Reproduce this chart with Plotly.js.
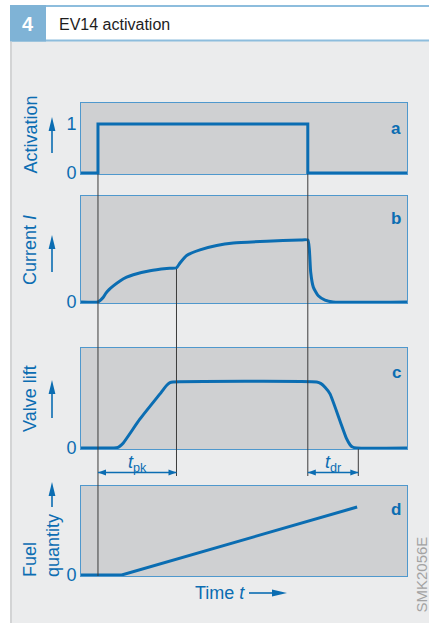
<!DOCTYPE html>
<html><head><meta charset="utf-8">
<script src="https://cdn.plot.ly/plotly-3.0.1.min.js"></script>
<style>html,body{margin:0;padding:0;background:#fff}#chart{width:429px;height:623px}</style>
</head><body><div id="chart"></div>
<script>
// ---------------- data ----------------
const timeActivation = [0, 5.21, 5.21, 69.57, 69.57, 100];
const activation     = [0, 0, 1, 1, 0, 0];

const timeCurrent = [0, 5.21, 6.0, 6.84, 7.6, 8.6, 9.91, 11.96, 14.0, 16.04, 21.17, 26.29, 29.29, 30.37, 32.42, 36.5, 41.63, 46.72, 56.96, 67.18, 69.57, 70.03, 70.46, 71.26, 72.79, 74.85, 77.3, 100];
const current     = [0, 0, 0.03, 0.076, 0.14, 0.2, 0.26, 0.34, 0.4, 0.44, 0.505, 0.54, 0.553, 0.63, 0.75, 0.84, 0.91, 0.95, 0.98, 1.0, 1.0, 0.855, 0.48, 0.24, 0.10, 0.03, 0, 0];

const timeLift  = [0, 10.12, 11.35, 12.0, 12.98, 18.1, 24.23, 25.46, 26.38, 27.3, 28.22, 72.3, 73.62, 74.85, 76.38, 79.45, 81.5, 82.52, 83.28, 84.57, 100];
const valveLift = [0, 0, 0.01, 0.03, 0.076, 0.44, 0.82, 0.9, 0.955, 0.99, 1.0, 1.0, 0.975, 0.92, 0.82, 0.41, 0.137, 0.05, 0.015, 0, 0];

const timeFuel     = [0, 12.5, 84.7];
const fuelQuantity = [0, 0, 1.0];

const eventNames = ['on', 'pk', 'off', 'close'];
const eventTimes = [5.21, 29.29, 69.57, 85.06];

const panelLetters = ['a', 'b', 'c', 'd'];
const axisTitles   = ['Activation', 'Current <i>I</i>', 'Valve lift', 'Fuel<br>quantity'];
const tickValues   = [[0, 1], [0], [0], [0]];
const tickTexts    = [['0', '1'], ['0'], ['0'], ['0']];

const chartTitle  = 'EV14 activation';
const figureNo    = '4';
const xLabel      = 'Time <i>t</i>';
const codeLabel   = 'SMK2056E';
const dimLabels   = ['<i>t</i><sub>pk</sub>', '<i>t</i><sub>dr</sub>'];

// ---------------- styling / geometry ----------------
const BLUE = '#0b6db2', BORDER = '#4f98cd', FONT = 'Liberation Sans, Arial, Helvetica, sans-serif';
const W = 429, H = 623, L = 81, R = 407;
const fx = px => (px - L) / (R - L);
const fy = py => 1 - py / H;
const tEv = name => eventTimes[eventNames.indexOf(name)];

const panels = [
  {top:103, bot:174, unit:49, letterY:128, labelX:30,   labelY:134.5, tip:117, tail:153},
  {top:196, bot:303, unit:62, letterY:219, labelX:30,   labelY:250,   tip:235, tail:272},
  {top:348, bot:449, unit:66, letterY:372, labelX:30,   labelY:398,   tip:380, tail:418},
  {top:486, bot:576, unit:68, letterY:509, labelX:41.5, labelY:545.5, tip:482, tail:507}
];
const series = [[timeActivation, activation], [timeCurrent, current], [timeLift, valveLift], [timeFuel, fuelQuantity]];
const smooth = [false, true, true, false];

const data = series.map((s, i) => ({
  type: 'scatter', mode: 'lines', x: s[0], y: s[1],
  xaxis: 'x' + (i ? i + 1 : ''), yaxis: 'y' + (i ? i + 1 : ''),
  line: smooth[i] ? {color: BLUE, width: 3, shape: 'spline', smoothing: 0.5} : {color: BLUE, width: 3},
  hoverinfo: 'skip', showlegend: false
}));

const layout = {
  width: W, height: H, autosize: false,
  margin: {l: L, r: W - R, t: 0, b: 0, pad: 0},
  paper_bgcolor: '#ebeced', plot_bgcolor: '#cfd0d2',
  font: {family: FONT, color: BLUE},
  showlegend: false, shapes: [], annotations: []
};

panels.forEach((p, i) => {
  const s = i ? String(i + 1) : '';
  layout['xaxis' + s] = {
    domain: [0, 1], range: [0, 100], anchor: 'y' + s, matches: i ? 'x' : undefined,
    showline: true, mirror: true, linecolor: BORDER, linewidth: 1,
    showticklabels: false, ticks: '', showgrid: false, zeroline: false, fixedrange: true, layer: 'below traces'
  };
  layout['yaxis' + s] = {
    domain: [fy(p.bot), fy(p.top)], range: [-1 / p.unit, (p.bot - p.top - 1) / p.unit], anchor: 'x' + s,
    tickvals: tickValues[i], ticktext: tickTexts[i], ticks: '',
    tickfont: {size: 18, color: BLUE, family: FONT},
    showline: true, mirror: true, linecolor: BORDER, linewidth: 1,
    showgrid: false, zeroline: false, fixedrange: true, layer: 'below traces'
  };
  layout.annotations.push({xref:'paper', yref:'paper', x: fx(396), y: fy(p.letterY), text: '<b>' + panelLetters[i] + '</b>',
    showarrow: false, font: {size: 17, color: BLUE}, xanchor: 'center', yanchor: 'middle'});
  layout.annotations.push({xref:'paper', yref:'paper', x: fx(p.labelX), y: fy(p.labelY), text: axisTitles[i],
    textangle: -90, align: 'left', showarrow: false, font: {size: 18, color: BLUE}, xanchor: 'center', yanchor: 'middle'});
});

const rect = (x0, x1, y0, y1, color) => ({type:'rect', xref:'paper', yref:'paper', x0: fx(x0), x1: fx(x1), y0: fy(y1), y1: fy(y0),
  fillcolor: color, line: {width: 0}, layer: 'above'});
layout.shapes.push(rect(0, 10, 0, H, '#ffffff'));
layout.shapes.push(rect(0, W, 0, 5, '#ffffff'));
layout.shapes.push(rect(10, W, 5, 41.5, '#8dbddd'));
layout.shapes.push(rect(46, W, 7, 39.5, '#ffffff'));
layout.shapes.push(rect(10, 46, 5, 41.5, '#7fb3d6'));
layout.shapes.push(rect(10, 12, 41.5, H, '#d3d4d5'));

layout.annotations.push({xref:'paper', yref:'paper', x: fx(28), y: fy(24.5), text: '<b>' + figureNo + '</b>', showarrow: false,
  font: {size: 20, color: '#ffffff'}, xanchor: 'center', yanchor: 'middle'});
layout.annotations.push({xref:'paper', yref:'paper', x: fx(57), y: fy(24), text: chartTitle, showarrow: false,
  font: {size: 16, color: '#1e1e1e'}, xanchor: 'left', yanchor: 'middle'});

const vline = (t, y0, y1) => ({type:'line', xref:'x', yref:'paper', x0: t, x1: t, y0: fy(y1), y1: fy(y0),
  line: {color: '#3c3c3c', width: 1}, layer: 'above'});
layout.shapes.push(vline(tEv('on'), 174, 576));
layout.shapes.push(vline(tEv('pk'), 269, 476));
layout.shapes.push(vline(tEv('off'), 174, 476));
layout.shapes.push(vline(tEv('close'), 449, 476));

const head = (xref, xa, yref, ya, dir, len, hw) => {
  const paths = {
    up:    `M0,0L${-hw},${-len}L${hw},${-len}Z`,
    left:  `M0,0L${len},${hw}L${len},${-hw}Z`,
    right: `M0,0L${-len},${hw}L${-len},${-hw}Z`
  };
  return {type:'path', xref, yref, xsizemode:'pixel', ysizemode:'pixel', xanchor: xa, yanchor: ya,
    path: paths[dir], fillcolor: BLUE, line: {width: 0}, layer: 'above'};
};

panels.forEach(p => {
  layout.shapes.push({type:'line', xref:'paper', yref:'paper', x0: fx(52), x1: fx(52), y0: fy(p.tail), y1: fy(p.tip + 10),
    line: {color: BLUE, width: 1.6}, layer: 'above'});
  layout.shapes.push(head('paper', fx(52), 'paper', fy(p.tip), 'up', 14, 3.4));
});

layout.shapes.push({type:'line', xref:'paper', yref:'paper', x0: fx(249), x1: fx(280), y0: fy(593), y1: fy(593),
  line: {color: BLUE, width: 1.6}, layer: 'above'});
layout.shapes.push(head('paper', fx(287), 'paper', fy(593), 'right', 15, 3.4));
layout.annotations.push({xref:'paper', yref:'paper', x: fx(193), y: fy(593), text: xLabel, showarrow: false,
  font: {size: 18, color: BLUE}, xanchor: 'left', yanchor: 'middle'});

const dims = [[tEv('on'), tEv('pk')], [tEv('off'), tEv('close')]];
dims.forEach((d, k) => {
  layout.shapes.push({type:'line', xref:'x', yref:'paper', x0: d[0], x1: d[1], y0: fy(472.5), y1: fy(472.5),
    line: {color: BLUE, width: 1.6}, layer: 'above'});
  layout.shapes.push(head('x', d[0], 'paper', fy(472.5), 'left', 8, 3));
  layout.shapes.push(head('x', d[1], 'paper', fy(472.5), 'right', 8, 3));
  layout.annotations.push({xref:'x', yref:'paper', x: (d[0] + d[1]) / 2, y: fy(463), text: dimLabels[k], showarrow: false,
    font: {size: 18, color: BLUE}, xanchor: 'center', yanchor: 'middle'});
});

layout.annotations.push({xref:'paper', yref:'paper', x: fx(420.5), y: fy(575), text: codeLabel, textangle: -90, showarrow: false,
  font: {size: 15, color: '#a3a3a3'}, xanchor: 'center', yanchor: 'middle'});

Plotly.newPlot('chart', data, layout, {staticPlot: true, displayModeBar: false});
</script>
</body></html>
